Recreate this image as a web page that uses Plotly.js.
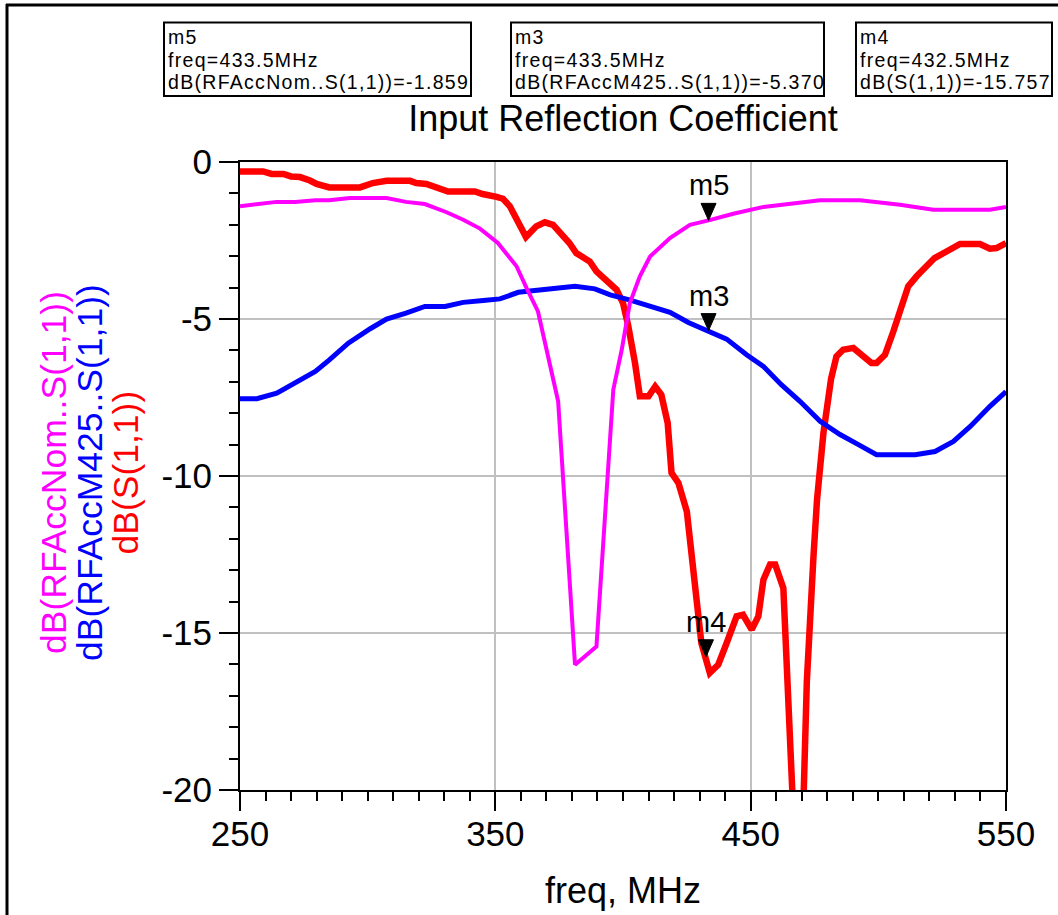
<!DOCTYPE html>
<html>
<head>
<meta charset="utf-8">
<script src="https://cdn.plot.ly/plotly-3.0.1.min.js"></script>
<style>
html,body{margin:0;padding:0;background:#fff;}
#chart{width:1058px;height:915px;}
</style>
</head>
<body>
<div id="chart"></div>
<script>
// ---- data ----
const freqS11 = [250,259,262.4,267,270,273.5,277.4,280,285,297,302,307.4,316.6,319,323,331.5,342,345,350.5,353,355.7,362,366,369.4,372.6,376.5,379,381.7,387,389.6,393.5,397.5,400,402,404.7,406.6,410,412.6,415,417.5,419,421.7,425,426.8,428.8,430.7,434,437.3,440.6,444.5,447,450.4,453,455,457.6,459.6,462.8,464.4,466.5,469,470.8,472,474.6,476,478.5,481.5,483.6,486.2,490.2,494,497.3,499.3,502.6,505.9,509,511.7,515,518.3,522,526.7,532,539.8,543.7,546.3,550];
const dbS11   = [-0.30,-0.30,-0.38,-0.38,-0.46,-0.48,-0.59,-0.70,-0.81,-0.81,-0.67,-0.60,-0.60,-0.67,-0.70,-0.94,-0.94,-1.02,-1.11,-1.17,-1.41,-2.39,-2.05,-1.92,-2.00,-2.35,-2.58,-2.90,-3.17,-3.48,-3.75,-4.07,-4.49,-5.20,-6.40,-7.46,-7.46,-7.15,-7.41,-8.31,-9.90,-10.22,-11.13,-12.35,-13.83,-15.32,-16.27,-16.01,-15.32,-14.47,-14.42,-14.89,-14.47,-13.30,-12.82,-12.82,-13.57,-16.06,-20.0,-25.0,-20.0,-16.54,-12.56,-10.75,-8.63,-6.90,-6.19,-5.98,-5.92,-6.19,-6.40,-6.40,-6.14,-5.39,-4.60,-3.96,-3.64,-3.38,-3.06,-2.85,-2.61,-2.61,-2.76,-2.74,-2.58];

const freqNom = [250,256.6,264.4,271.6,279.5,285,293,307.4,315,322.4,330.9,337.4,344,351,358.3,362.2,366.7,374.6,381.2,389.6,396.2,399.5,402.7,406.6,410.6,418.4,426.2,433.5,443.2,455,465.5,477.2,492.8,508.5,521.5,543.7,550];
const dbNom   = [-1.41,-1.34,-1.27,-1.27,-1.22,-1.22,-1.15,-1.15,-1.27,-1.34,-1.60,-1.84,-2.12,-2.58,-3.32,-4.01,-4.76,-7.62,-16.01,-15.43,-7.25,-5.98,-4.49,-3.64,-3.01,-2.42,-2.00,-1.86,-1.65,-1.43,-1.34,-1.22,-1.22,-1.36,-1.52,-1.52,-1.43];

const freqM425 = [250,256.6,264.4,271.6,279.5,285,292.4,301,307.4,315,322.4,330.3,337.4,345.3,351.8,359,368.8,381.2,389,395,402.5,410.6,418.4,425.6,433.5,440.6,448.4,455,462,469.3,477.2,485,492.2,499.3,514.4,522.2,529.4,536,543.7,550];
const dbM425   = [-7.54,-7.54,-7.36,-7.04,-6.67,-6.30,-5.77,-5.31,-5.00,-4.81,-4.60,-4.60,-4.47,-4.41,-4.36,-4.15,-4.07,-3.96,-4.04,-4.23,-4.39,-4.60,-4.79,-5.11,-5.37,-5.64,-6.14,-6.51,-7.09,-7.62,-8.26,-8.68,-9.00,-9.32,-9.32,-9.22,-8.90,-8.42,-7.78,-7.31];

const markerNames = ['m5','m3','m4'];
const markerFreq  = [433.5,433.5,432.5];
const markerDb    = [-1.859,-5.370,-15.757];
const markerExpr  = ['dB(RFAccNom..S(1,1))','dB(RFAccM425..S(1,1))','dB(S(1,1))'];

const xTickVals = [250,350,450,550];
const yTickVals = [0,-5,-10,-15,-20];
const yTitleLines = ['dB(RFAccNom..S(1,1))','dB(RFAccM425..S(1,1))','dB(S(1,1))'];
const chartTitle = 'Input Reflection Coefficient';
const xTitle = 'freq, MHz';

// ---- layout geometry (pixels) ----
const W = 1058, H = 915;
const L = 240, R = 1006, T = 162, B = 790;
const px2x = p => (p - L) / (R - L);
const py2y = p => (B - p) / (B - T);
const FONT = 'Liberation Sans, Arial, sans-serif';
const cMag = '#ff00ff', cBlue = '#0000ff', cRed = '#ff0000';

const traces = [
  {x: freqS11, y: dbS11, mode: 'lines', line: {color: cRed, width: 6.5}, hoverinfo: 'skip'},
  {x: freqM425, y: dbM425, mode: 'lines', line: {color: cBlue, width: 5}, hoverinfo: 'skip'},
  {x: freqNom, y: dbNom, mode: 'lines', line: {color: cMag, width: 4}, hoverinfo: 'skip'}
];

const shapes = [];
const annotations = [];

// figure frame (left and top edges)
shapes.push({type:'line', xref:'paper', yref:'paper', x0:px2x(7), x1:px2x(7), y0:py2y(4), y1:py2y(H+5), line:{color:'black', width:3}});
shapes.push({type:'line', xref:'paper', yref:'paper', x0:px2x(6), x1:px2x(W+5), y0:py2y(5), y1:py2y(5), line:{color:'black', width:3}});

// marker readout boxes
const boxLeft  = [164, 511, 856];
const boxRight = [471, 824, 1052];
const boxTop = 22.5, boxBottom = 96;
const lineMid = [37.5, 60, 82.5];
for (let i = 0; i < markerNames.length; i++) {
  shapes.push({type:'rect', xref:'paper', yref:'paper',
    x0:px2x(boxLeft[i]), x1:px2x(boxRight[i]), y0:py2y(boxBottom), y1:py2y(boxTop),
    line:{color:'black', width:2}, fillcolor:'rgba(0,0,0,0)'});
  const lines = [markerNames[i], 'freq=' + markerFreq[i].toFixed(1) + 'MHz', markerExpr[i] + '=' + markerDb[i].toFixed(3)];
  lines.forEach((t, k) => {
    annotations.push({xref:'paper', yref:'paper', x:px2x(boxLeft[i] + 2.5), y:py2y(lineMid[k]),
      xanchor:'left', yanchor:'middle', showarrow:false, borderpad:0, height:22,
      text:'<span style="letter-spacing:1.3px">' + t + '</span>',
      font:{family:FONT, size:19.5, color:'black'}});
  });
  // marker triangle + label on the trace
  shapes.push({type:'path', xref:'x', yref:'y', xsizemode:'pixel', ysizemode:'pixel',
    xanchor:markerFreq[i], yanchor:markerDb[i], path:'M-7.5,17 L7.5,17 L0,0 Z',
    fillcolor:'black', line:{color:'black', width:1}});
  annotations.push({xref:'x', yref:'y', x:markerFreq[i], y:markerDb[i], yanchor:'bottom', xanchor:'center',
    yshift:17, showarrow:false, text:markerNames[i], font:{family:FONT, size:29, color:'black'}});
}

// y-axis title lines (stacked, coloured)
const yTitleX = [54, 90, 125.5];
const yTitleColors = [cMag, cBlue, cRed];
yTitleLines.forEach((t, k) => {
  annotations.push({xref:'paper', yref:'paper', x:px2x(yTitleX[k]), y:py2y(473), xanchor:'center', yanchor:'middle',
    textangle:-90, showarrow:false, text:t, font:{family:FONT, size:35.5, color:yTitleColors[k]}});
});
// x-axis title
annotations.push({xref:'paper', yref:'paper', x:0.5, y:py2y(890.5), xanchor:'center', yanchor:'middle',
  showarrow:false, text:xTitle, font:{family:FONT, size:36, color:'black'}});

const axisCommon = {
  ticks:'outside', ticklen:19, tickwidth:2, tickcolor:'black',
  showline:true, linewidth:2, linecolor:'black', mirror:true,
  showgrid:true, gridcolor:'#c0c0c0', gridwidth:2, zeroline:false,
  tickfont:{family:FONT, size:35, color:'black'}, fixedrange:true
};

const layout = {
  width:W, height:H,
  margin:{l:L, r:W-R, t:T, b:H-B, pad:0},
  paper_bgcolor:'white', plot_bgcolor:'white',
  showlegend:false,
  font:{family:FONT, color:'black'},
  title:{text:chartTitle, x:0.5, xref:'paper', xanchor:'center', y:1-118.4/H, yref:'container', yanchor:'middle',
    font:{family:FONT, size:36, color:'black'}},
  xaxis:Object.assign({}, axisCommon, {range:[250,550], tickmode:'array', tickvals:xTickVals, ticktext:xTickVals.map(String),
    ticklabelstandoff:-7,
    minor:{dtick:10, tick0:250, ticks:'outside', ticklen:9, tickwidth:2, tickcolor:'black', showgrid:false}}),
  yaxis:Object.assign({}, axisCommon, {range:[-20,0], tickmode:'array', tickvals:yTickVals, ticktext:yTickVals.map(String),
    minor:{dtick:1, tick0:0, ticks:'outside', ticklen:9, tickwidth:2, tickcolor:'black', showgrid:false}}),
  shapes:shapes,
  annotations:annotations
};

Plotly.newPlot('chart', traces, layout, {staticPlot:true, displayModeBar:false});
</script>
</body>
</html>
